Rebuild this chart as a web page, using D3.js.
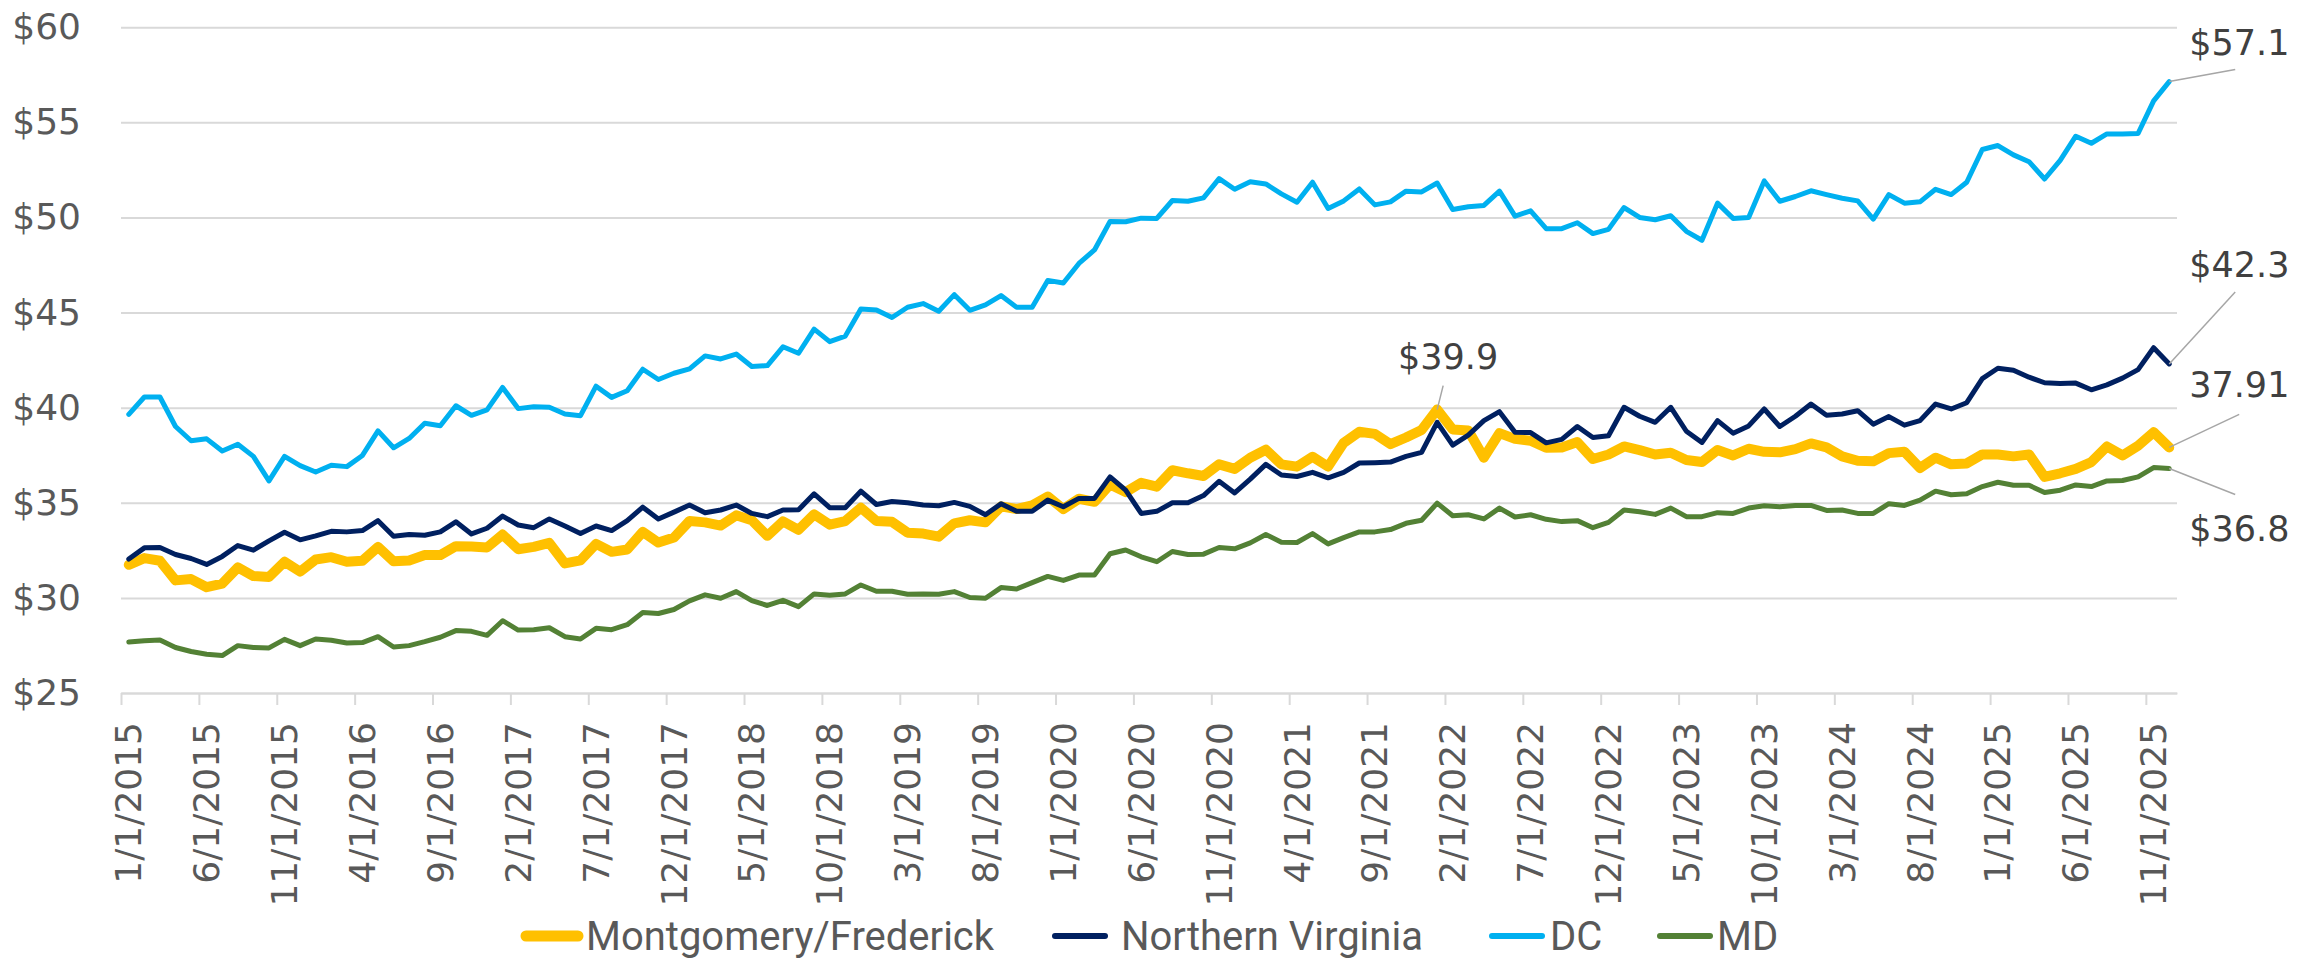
<!DOCTYPE html>
<html>
<head>
<meta charset="utf-8">
<script src="https://cdn.jsdelivr.net/npm/d3@7"></script>
<style>
  body { margin: 0; background: #fff; }
  text { font-family: "DejaVu Sans", sans-serif; }
</style>
</head>
<body>
<div id="chart"></div>
<script>
// monthly categories, Jan 2015 - Dec 2025
const months = d3.timeMonth.range(new Date(2015, 0, 1), new Date(2026, 0, 1));

const tickLabels = ["1/1/2015","6/1/2015","11/1/2015","4/1/2016","9/1/2016","2/1/2017","7/1/2017",
  "12/1/2017","5/1/2018","10/1/2018","3/1/2019","8/1/2019","1/1/2020","6/1/2020","11/1/2020",
  "4/1/2021","9/1/2021","2/1/2022","7/1/2022","12/1/2022","5/1/2023","10/1/2023","3/1/2024",
  "8/1/2024","1/1/2025","6/1/2025","11/1/2025"];

const yTicks = [25, 30, 35, 40, 45, 50, 55, 60];

const seriesNames = ["Montgomery/Frederick", "Northern Virginia", "DC", "MD"];
const seriesColors = ["#FFC000", "#002060", "#00B0F0", "#538135"];
const seriesWidths = [10, 5, 5, 5];

const montFred = [31.74,32.09,31.95,30.92,30.99,30.56,30.75,31.60,31.15,31.10,31.90,31.38,
  32.02,32.14,31.90,31.95,32.68,31.92,31.97,32.25,32.25,32.72,32.70,32.65,
  33.33,32.56,32.68,32.89,31.81,31.97,32.84,32.42,32.54,33.47,32.91,33.17,
  34.04,33.97,33.80,34.34,34.08,33.26,34.02,33.58,34.39,33.85,34.04,34.74,
  34.04,34.00,33.43,33.38,33.22,33.92,34.08,33.97,34.81,34.67,34.86,35.33,
  34.67,35.21,35.05,35.96,35.56,36.05,35.85,36.71,36.55,36.41,37.02,36.78,
  37.37,37.79,37.02,36.90,37.42,36.90,38.15,38.73,38.62,38.08,38.43,38.83,
  39.90,38.85,38.80,37.37,38.66,38.36,38.26,37.89,37.91,38.19,37.30,37.54,
  37.96,37.77,37.54,37.63,37.25,37.14,37.77,37.49,37.84,37.68,37.65,37.82,
  38.12,37.91,37.44,37.21,37.18,37.61,37.68,36.83,37.37,37.02,37.07,37.54,
  37.54,37.44,37.54,36.36,36.55,36.78,37.14,37.96,37.49,38.00,38.71,37.91];

const norVa = [32.04,32.63,32.65,32.28,32.07,31.76,32.18,32.75,32.51,33.00,33.45,33.05,
  33.26,33.50,33.47,33.54,34.06,33.24,33.33,33.29,33.47,34.00,33.36,33.66,
  34.30,33.83,33.69,34.15,33.78,33.38,33.78,33.54,34.06,34.77,34.15,34.51,
  34.88,34.48,34.62,34.88,34.44,34.27,34.62,34.63,35.47,34.74,34.74,35.61,
  34.91,35.07,35.00,34.88,34.84,35.02,34.81,34.37,34.95,34.55,34.55,35.14,
  34.79,35.23,35.23,36.36,35.66,34.44,34.55,35.00,35.00,35.38,36.13,35.52,
  36.24,37.02,36.46,36.38,36.60,36.31,36.60,37.09,37.11,37.14,37.44,37.65,
  39.23,38.03,38.56,39.32,39.79,38.71,38.69,38.15,38.33,39.01,38.43,38.52,
  40.02,39.55,39.23,40.02,38.76,38.17,39.32,38.66,39.04,39.93,39.01,39.55,
  40.19,39.60,39.67,39.84,39.13,39.53,39.08,39.32,40.19,39.93,40.26,41.53,
  42.07,41.97,41.60,41.31,41.27,41.29,40.94,41.20,41.55,42.00,43.15,42.30];

const dc = [39.65,40.56,40.56,39.01,38.26,38.36,37.72,38.08,37.44,36.15,37.44,36.95,
  36.62,36.97,36.90,37.49,38.78,37.89,38.38,39.18,39.05,40.10,39.60,39.88,
  41.06,39.95,40.05,40.02,39.67,39.58,41.13,40.54,40.89,42.02,41.48,41.81,
  42.04,42.72,42.56,42.82,42.16,42.21,43.20,42.86,44.13,43.47,43.76,45.19,
  45.14,44.74,45.28,45.47,45.07,45.94,45.12,45.40,45.89,45.28,45.28,46.69,
  46.55,47.58,48.29,49.79,49.77,49.96,49.95,50.89,50.85,51.03,52.04,51.48,
  51.88,51.76,51.24,50.80,51.85,50.47,50.87,51.50,50.66,50.82,51.38,51.34,
  51.81,50.42,50.56,50.63,51.38,50.07,50.35,49.41,49.41,49.72,49.15,49.37,
  50.52,50.00,49.88,50.09,49.27,48.80,50.75,49.95,50.00,51.92,50.85,51.10,
  51.40,51.20,51.01,50.87,49.91,51.20,50.75,50.82,51.48,51.20,51.85,53.57,
  53.78,53.29,52.93,52.02,53.00,54.27,53.90,54.39,54.39,54.41,56.13,57.14];

const md = [27.68,27.75,27.79,27.39,27.18,27.04,26.97,27.49,27.39,27.37,27.82,27.49,
  27.84,27.77,27.63,27.65,27.96,27.42,27.49,27.70,27.93,28.28,28.24,28.03,
  28.80,28.31,28.33,28.43,27.96,27.84,28.40,28.33,28.59,29.23,29.18,29.39,
  29.84,30.16,29.98,30.33,29.86,29.60,29.87,29.54,30.21,30.14,30.21,30.68,
  30.35,30.35,30.19,30.21,30.19,30.33,30.02,29.98,30.54,30.47,30.80,31.13,
  30.92,31.20,31.20,32.32,32.52,32.16,31.90,32.44,32.28,32.30,32.65,32.58,
  32.89,33.33,32.93,32.91,33.38,32.84,33.17,33.47,33.47,33.59,33.92,34.08,
  34.98,34.32,34.37,34.15,34.72,34.25,34.37,34.13,34.01,34.06,33.69,33.97,
  34.62,34.53,34.39,34.72,34.27,34.27,34.48,34.44,34.72,34.84,34.79,34.86,
  34.86,34.60,34.62,34.44,34.44,34.95,34.86,35.14,35.61,35.42,35.47,35.85,
  36.08,35.92,35.92,35.54,35.66,35.94,35.85,36.15,36.17,36.36,36.85,36.80];

const seriesValues = [montFred, norVa, dc, md];

// data callouts: which series, which month, what text
const callouts = [
  {series: 2, index: 131, text: "$57.1"},
  {series: 1, index: 131, text: "$42.3"},
  {series: 0, index: 131, text: "37.91"},
  {series: 3, index: 131, text: "$36.8"},
  {series: 0, index: 84,  text: "$39.9"}
];
// where each callout sits relative to its point (layout only)
const calloutOffsets = [
  {tx: 20, ty: -27, lx: 66, ly: -12, anchor: "start"},
  {tx: 20, ty: -87, lx: 66, ly: -72, anchor: "start"},
  {tx: 20, ty: -50, lx: 70, ly: -33, anchor: "start"},
  {tx: 20, ty: 72,  lx: 66, ly: 26,  anchor: "start"},
  {tx: 11, ty: -41, lx: 6,  ly: -24, anchor: "middle"}
];

const W = 2317, H = 959;
const x0 = 121, x1 = 2177, yTop = 27.2, yBot = 693;

const svg = d3.select("#chart").append("svg")
  .attr("width", W).attr("height", H)
  .style("background", "#fff");

// category boundaries on a linear scale, points sit mid-category
const x = d3.scaleLinear().domain([0, months.length]).range([x0, x1]);
const xc = i => x(i + 0.5);
const y = d3.scaleLinear().domain([25, 60]).range([yBot, yTop]);

// gridlines + y labels
const yAxis = svg.append("g")
  .attr("transform", "translate(" + x0 + ",0)")
  .call(d3.axisLeft(y).tickValues(yTicks).tickSize(-(x1 - x0)).tickPadding(40)
    .tickFormat(d => "$" + d));
yAxis.select(".domain").remove();
yAxis.selectAll(".tick line").attr("stroke", "#d9d9d9").attr("stroke-width", 2);
yAxis.selectAll(".tick text")
  .attr("fill", "#595959").style("font-size", "36px")
  .attr("font-family", "DejaVu Sans");

// x axis line and tick marks at category boundaries
const xAxis = svg.append("g")
  .attr("transform", "translate(0," + yBot + ")")
  .call(d3.axisBottom(x).tickValues(d3.range(0, months.length, 5)).tickSize(12)
    .tickSizeOuter(0).tickFormat(""));
xAxis.select(".domain").attr("stroke", "#d9d9d9").attr("stroke-width", 2);
xAxis.selectAll(".tick line").attr("stroke", "#d9d9d9").attr("stroke-width", 2);

// rotated date labels
svg.append("g").selectAll("text")
  .data(tickLabels)
  .enter().append("text")
  .attr("transform", (d, k) => "translate(" + xc(k * 5) + ",722) rotate(-90)")
  .attr("text-anchor", "end")
  .attr("dy", "0.35em")
  .attr("fill", "#595959")
  .style("font-size", "36px")
  .text(d => d);

// series lines
const line = d3.line()
  .x((d, i) => xc(i))
  .y(d => y(d));

svg.append("g").selectAll("path")
  .data(seriesValues)
  .enter().append("path")
  .attr("d", d => line(d))
  .attr("fill", "none")
  .attr("stroke", (d, k) => seriesColors[k])
  .attr("stroke-width", (d, k) => seriesWidths[k])
  .attr("stroke-linejoin", "round")
  .attr("stroke-linecap", "round");

// callouts with leader lines
const cg = svg.append("g");
callouts.forEach(function (c, k) {
  const px = xc(c.index), py = y(seriesValues[c.series][c.index]);
  const o = calloutOffsets[k];
  cg.append("line")
    .attr("x1", px).attr("y1", py)
    .attr("x2", px + o.lx).attr("y2", py + o.ly)
    .attr("stroke", "#a6a6a6").attr("stroke-width", 1.5);
  cg.append("text")
    .attr("x", px + o.tx).attr("y", py + o.ty)
    .attr("text-anchor", o.anchor)
    .attr("fill", "#404040")
    .style("font-size", "35px")
    .text(c.text);
});

// legend (item placement is layout only)
const legendSwatch = [[526, 578], [1055, 1105], [1492, 1542], [1660, 1710]];
const legendTextX = [586, 1121, 1550, 1717];
const legend = svg.append("g").attr("transform", "translate(0,936)");
seriesNames.forEach(function (name, k) {
  legend.append("line")
    .attr("x1", legendSwatch[k][0]).attr("x2", legendSwatch[k][1])
    .attr("y1", 0).attr("y2", 0)
    .attr("stroke", seriesColors[k])
    .attr("stroke-width", k === 0 ? 11 : 6)
    .attr("stroke-linecap", "round");
  legend.append("text")
    .attr("x", legendTextX[k]).attr("y", 14)
    .attr("fill", "#595959")
    .style("font-family", "Roboto, sans-serif")
    .style("font-size", "40px")
    .text(name);
});
</script>
</body>
</html>
